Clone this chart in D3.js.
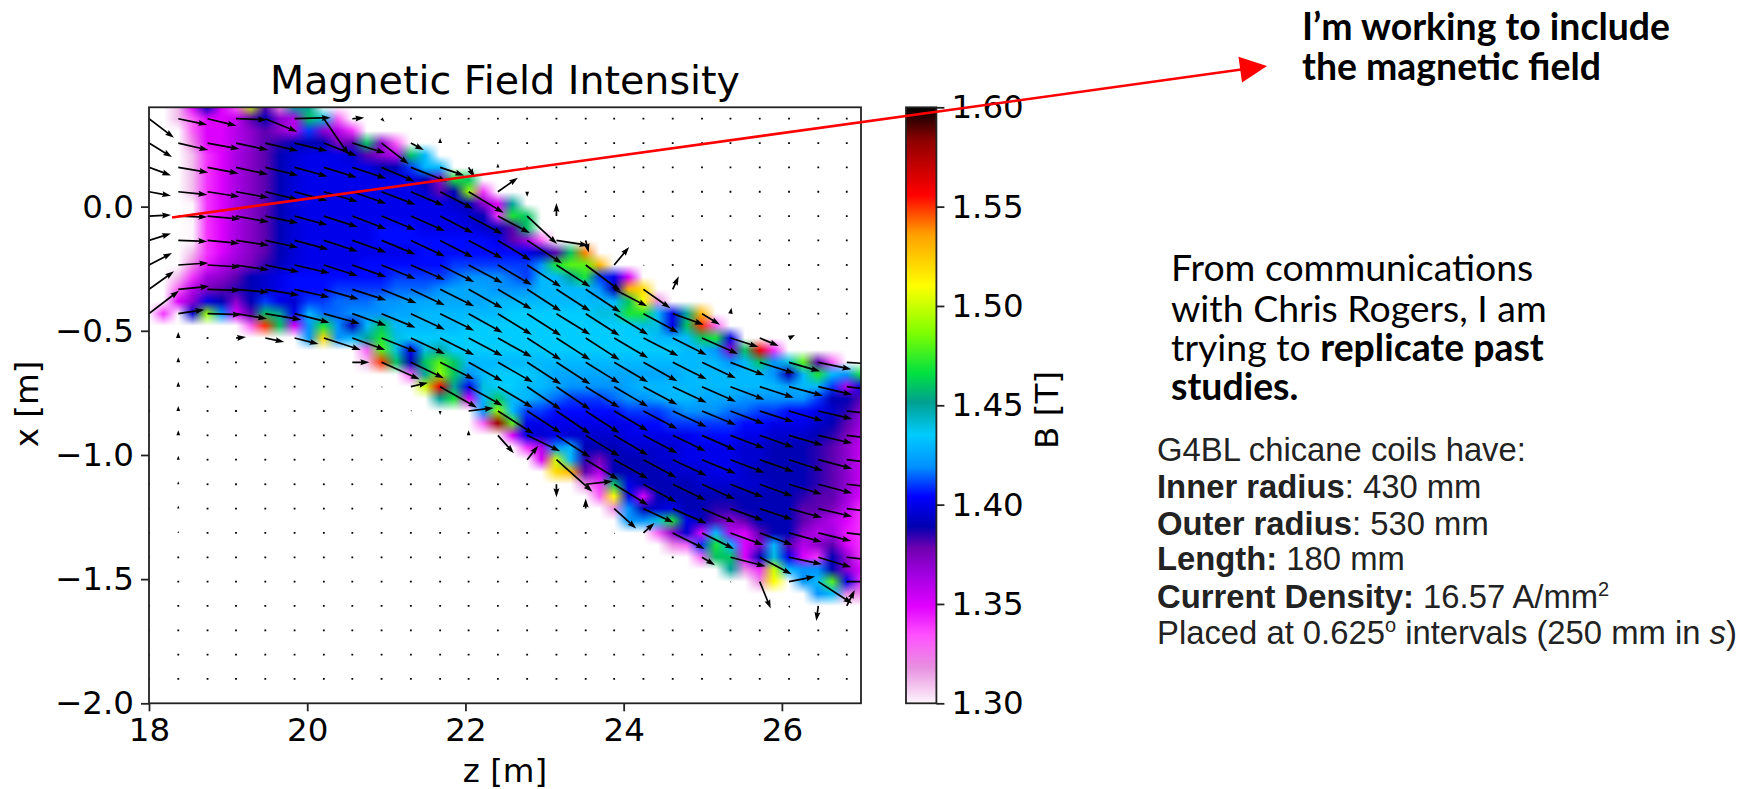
<!DOCTYPE html>
<html>
<head>
<meta charset="utf-8">
<title>Magnetic Field Intensity</title>
<script src="https://cdn.jsdelivr.net/npm/d3@7"></script>
<style>
    html, body { margin: 0; padding: 0; background: #fff; overflow: hidden; }
    svg { display: block; }
    .axis text, .plot-text { font-family: "DejaVu Sans", sans-serif; fill: #000; }
    .note { font-family: Lato, "Liberation Sans", sans-serif; fill: #000; }
    .coil { font-family: "Liberation Sans", sans-serif; fill: #222; }
</style>
</head>
<body>
<svg id="chart" width="1738" height="789"></svg>
<script>
// axes
const zTicks = [18, 20, 22, 24, 26];
const xTicks = [0, -0.5, -1, -1.5, -2];
const cbarTicks = [1.3, 1.35, 1.4, 1.45, 1.5, 1.55, 1.6];

// colour map
const cmapValues = [1.30, 1.318, 1.3345, 1.349, 1.365, 1.378, 1.389, 1.404, 1.419, 1.435, 1.4516, 1.466, 1.4866, 1.51, 1.536, 1.556, 1.583, 1.60];
const cmapColors = ["#fdf5fc", "#e890e0", "#ff50ff", "#e000ff", "#a000e0", "#7000b0", "#0000b0", "#0000ff", "#0090ff", "#00ccff", "#00a090", "#00e040", "#80ff00", "#ffff00", "#ffa000", "#ff0000", "#900000", "#000000"];

// quiver sample positions
const zGrid = [18.00, 18.37, 18.74, 19.10, 19.47, 19.84, 20.21, 20.57, 20.94, 21.31, 21.68, 22.04, 22.41, 22.78, 23.15, 23.52, 23.88, 24.25, 24.62, 24.99, 25.35, 25.72, 26.09, 26.46, 26.82];
const xGrid = [0.354, 0.256, 0.158, 0.060, -0.038, -0.136, -0.235, -0.333, -0.431, -0.529, -0.627, -0.725, -0.823, -0.921, -1.019, -1.118, -1.216, -1.314, -1.412, -1.510, -1.608, -1.706, -1.804, -1.902];

// field components per row, in units of 0.04 T
const arrowU = [
    [25,29,29,31,32,36,25,12,3,0,0,0,0,0,0,0,0,0,0,0,0,0,0,0,0],
    [23,30,32,32,33,33,33,33,27,13,0,0,0,0,0,0,0,0,0,0,0,0,0,0,0],
    [22,30,31,32,33,33,33,34,33,36,24,6,0,0,0,0,0,0,0,0,0,0,0,0,0],
    [22,29,32,33,33,33,34,34,34,33,33,35,20,0,0,0,0,0,0,0,0,0,0,0,0],
    [22,29,33,33,33,33,34,34,34,34,33,34,32,30,0,0,0,0,0,0,0,0,0,0,0],
    [22,29,32,33,33,34,34,34,34,34,33,34,33,35,32,3,0,0,0,0,0,0,0,0,0],
    [23,30,33,33,34,35,34,34,34,34,34,34,34,34,34,35,15,1,0,0,0,0,0,0,0],
    [25,31,33,33,34,35,35,34,35,34,34,34,34,34,34,35,33,27,6,0,0,0,0,0,0],
    [30,26,34,31,36,35,36,34,34,34,34,34,34,34,34,34,34,35,31,18,1,0,0,0,0],
    [0,0,0,10,19,24,37,33,35,34,34,34,34,34,34,34,34,35,34,36,28,19,6,0,0],
    [0,0,0,0,0,0,0,17,38,33,34,34,35,34,34,34,34,34,34,34,34,35,31,33,32],
    [0,0,0,0,0,0,0,0,1,17,37,34,35,34,34,34,34,34,34,34,34,34,34,34,34],
    [0,0,0,0,0,0,0,0,0,1,0,25,36,34,34,34,34,34,34,34,34,34,34,34,34],
    [0,0,0,0,0,0,0,0,0,0,0,0,16,33,34,34,34,34,33,34,34,34,34,34,34],
    [0,0,0,0,0,0,0,0,0,0,0,0,1,11,36,33,34,33,34,34,34,34,34,34,34],
    [0,0,0,0,0,0,0,0,0,0,0,0,0,0,0,27,34,33,33,33,33,33,33,34,34],
    [0,0,0,0,0,0,0,0,0,0,0,0,0,0,0,0,22,30,34,33,33,33,33,34,34],
    [0,0,0,0,0,0,0,0,0,0,0,0,0,0,0,0,1,11,32,32,33,33,33,33,34],
    [0,0,0,0,0,0,0,0,0,0,0,0,0,0,0,0,0,0,0,13,35,32,33,33,34],
    [0,0,0,0,0,0,0,0,0,0,0,0,0,0,0,0,0,0,0,0,1,11,26,34,34],
    [0,0,0,0,0,0,0,0,0,0,0,0,0,0,0,0,0,0,0,0,0,0,1,-2,8],
    [0,0,0,0,0,0,0,0,0,0,0,0,0,0,0,0,0,0,0,0,0,0,0,0,0],
    [0,0,0,0,0,0,0,0,0,0,0,0,0,0,0,0,0,0,0,0,0,0,0,0,0],
    [0,0,0,0,0,0,0,0,0,0,0,0,0,0,0,0,0,0,0,0,0,0,0,0,0]
];
const arrowV = [
    [-19,-6,-7,-1,-13,1,-36,1,-3,0,0,0,0,0,0,0,0,0,0,0,0,0,0,0,0],
    [-14,-7,-6,-7,-8,-8,-13,-10,-21,-7,5,0,0,0,0,0,0,0,0,0,0,0,0,0,0],
    [-8,-5,-6,-7,-8,-9,-10,-11,-14,-14,-8,-10,4,0,0,0,0,0,0,0,0,0,0,0,0],
    [-4,-3,-5,-6,-8,-9,-10,-12,-13,-14,-17,-21,14,-5,0,0,0,0,0,0,0,0,0,0,0],
    [1,-1,-3,-6,-7,-9,-11,-13,-14,-15,-17,-18,-17,-28,13,0,0,0,0,0,0,0,0,0,0],
    [7,-1,-3,-5,-7,-9,-11,-12,-14,-16,-17,-18,-20,-23,-5,-12,0,0,0,0,0,0,0,0,0],
    [12,2,-2,-5,-7,-8,-11,-12,-14,-15,-17,-18,-20,-22,-22,-26,18,-1,0,0,0,0,0,0,0],
    [18,3,-1,-3,-6,-8,-10,-11,-14,-16,-17,-19,-20,-22,-22,-23,-17,-19,13,0,0,0,0,0,0],
    [23,4,-1,-5,-6,-9,-10,-12,-14,-16,-17,-19,-21,-22,-21,-22,-21,-19,-11,-11,6,0,0,0,0],
    [0,6,0,1,-4,-6,-12,-12,-14,-16,-17,-18,-19,-22,-22,-22,-20,-18,-17,-16,-9,-8,3,0,0],
    [0,5,0,0,0,0,0,0,-17,-16,-17,-19,-20,-22,-22,-21,-20,-19,-17,-16,-13,-11,-9,-7,-2],
    [0,5,0,0,0,0,0,0,-1,4,-21,-19,-21,-23,-23,-21,-20,-18,-16,-15,-13,-11,-9,-8,-4],
    [0,5,0,0,0,0,0,0,0,1,-4,3,-23,-22,-23,-22,-20,-18,-16,-14,-13,-11,-10,-8,-4],
    [0,5,0,0,0,0,0,0,0,0,0,5,-18,-16,-22,-21,-20,-18,-16,-15,-13,-12,-10,-8,-4],
    [0,4,0,0,0,0,0,0,0,0,0,0,-1,14,-32,-20,-19,-18,-16,-14,-13,-12,-11,-9,-4],
    [0,3,0,0,0,0,0,0,0,0,0,0,0,0,-13,3,-21,-18,-16,-15,-13,-12,-10,-9,-4],
    [0,3,0,0,0,0,0,0,0,0,0,0,0,0,0,10,-20,-14,-15,-14,-12,-11,-9,-8,-4],
    [0,2,0,0,0,0,0,0,0,0,0,0,0,0,0,0,-1,10,-16,-16,-12,-12,-9,-8,-4],
    [0,0,0,0,0,0,0,0,0,0,0,0,0,0,0,0,0,0,0,-8,-9,-17,-7,-10,-4],
    [0,0,0,0,0,0,0,0,0,0,0,0,0,0,0,0,0,0,0,0,-1,-27,5,-22,0],
    [0,0,0,0,0,0,0,0,0,0,0,0,0,0,0,0,0,0,0,0,0,0,-2,-15,16],
    [0,0,0,0,0,0,0,0,0,0,0,0,0,0,0,0,0,0,0,0,0,0,0,0,0],
    [0,0,0,0,0,0,0,0,0,0,0,0,0,0,0,0,0,0,0,0,0,0,0,0,0],
    [0,0,0,0,0,0,0,0,0,0,0,0,0,0,0,0,0,0,0,0,0,0,0,0,0]
];

// |B| map in 0.01 T, sampled at half the quiver spacing. First row sits one half step above xGrid[0].
// fieldStart is the index of the first filled half step in each row, everything else is empty
const fieldStart = [2,2,3,3,3,3,3,3,3,3,3,3,3,3,2,2,2,1,7,11,15,15,18,19,20,23,23,25,26,27,28,30,31,32,33,35,36,38,40,42,46];
const fieldValues = [
    [131,135,139,135,133,150,138,132,145,145],
    [131,133,135,135,135.5,138,139,137,136,146,144,133],
    [133,135,135,136,137,138,137,136,141,137,136,134],
    [132,135,135,136,137,138,138.5,139,139,139,137.5,138,146,137,133],
    [131,134,135,136.3,137.2,138,139,139.7,140,140,140,139.5,138,137,136,146,143],
    [131,134,135,136.3,137.2,138,139,139.7,140,140,140,140,140,139,139,141,143,143],
    [131,134,135,136.3,137.2,138,139,139.7,140,140,140,140,140,140,140,140,139,137,147,146],
    [131,134,135,136.3,137.2,138,139,139.7,140,140,140,140,140,140,140,140,139.5,138,139,149,134],
    [130,134,135,136.3,137.2,138,139,139.7,140,140,140,140,140,140,140,140,140,140,139.5,139,137,135,145],
    [130,134,135,136.3,137.2,138,139,139.7,140,140,140,140,140,140,140,140,140,140,140,139.5,139,134,147,146],
    [130,134,135,136.3,137.2,138,139,139.7,140,140,140,140,140,140.5,140.5,140.5,140,140,140,140,139.5,139,138,146],
    [130,134,135,136.3,137.2,138,139,139.7,140,140,140,140,140,140.5,140.5,140.5,140.5,140.5,140.5,140.5,140.5,140,138,136.5,133],
    [131,134,135,136.3,137.2,138,139,139.7,140,140,140,140,140,140,140,140,140.5,140.5,140.5,140.5,140.5,140.5,140.5,140,139,138,146,154],
    [132,134.5,136,136.8,137.5,138.4,139.2,139.8,140,140,140,140,140.5,140.5,140.5,140.5,140.5,140.5,141,141,141,141,141,141,142,147,148,148,153],
    [131,134,136.5,137,138,139,139.5,140,140.5,140.5,140.5,140.5,140.5,140.5,140.5,141,141,141,141,141.5,142,142,142,141.5,141,143,143,145,147,141,140,135],
    [133,136,137.5,138,138.5,139,139.5,140,140.5,140.5,140.5,141,141,141,141,141.5,141.5,141.5,142,142.5,142.5,142.5,142,142,142,143,143,143,143,142,139,153,152],
    [135,137,140,139,137,139,141,140,139.5,141,141,141.5,141.5,141.5,142,142,142.5,142.5,142.5,142.5,142.5,142.5,143,143,143,143,143,143,143,143,143,146,151,132],
    [134,130,139.5,149,142,135,138,146,145,140,143,141.5,141.5,142,142,142,142.5,142.5,143,143,143,143,143,143,143.5,143.5,143.5,143.5,143.5,143.5,144,144,147,147,143,140,145,153],
    [133,155,146,135,142,147,142,139,143,146,143,143,143,143,143,143.5,143.5,143.5,143.5,143.5,143.5,143.5,143.5,143.5,143.5,143.5,143.5,144,144,140,146,155,133],
    [142,152,142,143,145,147,144,143.5,143.5,143.5,143.5,143.5,143.5,143.5,143.5,143.5,143.5,143.5,143.5,143.5,143.5,143.5,143.5,143.5,143,143,143,146,147,140],
    [133,148,144,140,144,145,143.5,143.5,143.5,143.5,143.5,143.5,143.5,143.5,143.5,143.5,143.5,143.5,143.5,143.5,143.5,143.5,143,143,142,137,146,156,134],
    [131,155,146,139,146,148,146,143,143,143,143,143,143,143,143,143,143,143,143,143,143,143,143,143,143,142,143,146,142,144,148,138,133],
    [133,145,149,146,142,143,143.5,143.5,143.5,143,142.5,142.5,142.5,142.5,142.5,142.5,142.5,142.5,142.5,143,143,143,143,143,143,142,139,143,147,143,142,147],
    [150,156,145,140,144,143.5,143.5,143,143,142.5,142,142,142,142,142.5,143,143,143,143,143,143,143,143,143,143,142.5,143,143,141,136,140],
    [145,147,135,143,146,143,143,142,141.5,141,141,141,141.5,142,142,142.5,143,143,142.5,142.5,142.5,142,142,142,142,142,141,139,139,138],
    [142,149,143,141,141,140.5,140.5,140.5,140.5,140.5,141,141,141,141.5,142,142,142,141.5,141.5,141,141,140.5,140.5,140,139.5,138.5,137],
    [133,158,148,140,140,140,140,140,140,140,140,140.5,140.5,141,141,141,141,141,140.5,140.5,140,140,140,139.5,139,138,136.5],
    [135,140,139.5,140,139.5,139.5,139.5,139.5,140,140,140,140,140,140.5,140.5,140.5,140,140,139.5,139.5,139.5,139,138.5,137.5,136],
    [134,136,142,143,139,139,139,139.5,139.5,139.5,139.5,140,140,140,140,139.5,139.5,139,139,139,138.5,138,137,135.5],
    [135,150,143,138.5,137.5,139,139,139,139.5,139.5,140,140,140,140,139.5,139.5,139,139,139,138.5,138,137,135.5],
    [152,153,138,136,139,139,139,139,139.5,139.5,139.5,140,140,139.5,139,139,139,139,138.5,138,137,135.5],
    [132,134,146,140,139,139,139,139,139.5,139.5,139.5,139.5,139.5,139,139,139,138.5,138,137,135.5],
    [133,151,140,135,139,139,139,139,139,139,139,139,139,139,138.5,138,138,136.5,135],
    [132,142,139,139.5,140,139,139,138.5,138.5,139,139,139,139,138,138,137.5,136,134],
    [142,142,144,147,140,139,138,137,138,139,139,139,138,137,136,135,134],
    [133,137,139.5,135,143,136,135,138,139,139,137,136,136.5,134.5,134],
    [132,133,141,147,143,135,137,143,138,136,137,138,135,134],
    [133,146,146,135,139,144,140,135,134,139,137,134],
    [145,132,134,150,143,142,142,139,137,135],
    [132,151,0,142,143,148,140,134],
    [142,143,132,132]
];

const plot = { left: 149, right: 861, top: 107.3, bottom: 703.3 };
const bar = { left: 906, right: 936.4 };

const svg = d3.select("#chart");

const zScale = d3.scaleLinear().domain([18, 27]).range([plot.left, plot.right]);
const xScale = d3.scaleLinear().domain([-2, 0.4]).range([plot.bottom, plot.top]);
const bScale = d3.scaleLinear().domain([1.3, 1.6]).range([plot.bottom, plot.top]);
const colorScale = d3.scaleLinear().domain(cmapValues).range(cmapColors).clamp(true);
const quiverScale = d3.scaleLinear().domain([0, 1.36]).range([0, 34]);

// white where there is no value, so the map fades out to the paper at its edge
function nodeRgb(row, col){
    const vals = fieldValues[row];
    if(!vals) return [255, 255, 255];
    const v = vals[col - fieldStart[row]];
    if(!v) return [255, 255, 255];
    const c = d3.rgb(colorScale(v / 100));
    return [c.r, c.g, c.b];
}

function drawField(){
    const w = plot.right - plot.left, h = plot.bottom - plot.top;
    const canvas = document.createElement("canvas");
    canvas.width = w;
    canvas.height = Math.ceil(h);
    const ctx = canvas.getContext("2d");
    const img = ctx.createImageData(canvas.width, canvas.height);

    const dz = (zGrid[24] - zGrid[0]) / 48;
    const dx = (xGrid[23] - xGrid[0]) / 46;
    const rgbCache = new Map();
    const rgbAt = (r, c) => {
        const key = r * 100 + c;
        if(!rgbCache.has(key)) rgbCache.set(key, nodeRgb(r, c));
        return rgbCache.get(key);
    };

    for(let py = 0; py < canvas.height; py++){
        const xv = xScale.invert(plot.top + py + 0.5);
        const fr = (xv - xGrid[0]) / dx + 1;
        const r0 = Math.floor(fr), tr = fr - r0;
        for(let px = 0; px < w; px++){
            const zv = zScale.invert(plot.left + px + 0.5);
            const fc = (zv - zGrid[0]) / dz;
            const c0 = Math.floor(fc), tc = fc - c0;
            const a = rgbAt(r0, c0), b = rgbAt(r0, c0 + 1), c = rgbAt(r0 + 1, c0), d = rgbAt(r0 + 1, c0 + 1);
            const i = (py * canvas.width + px) * 4;
            for(let k = 0; k < 3; k++){
                img.data[i + k] = (a[k] * (1 - tc) + b[k] * tc) * (1 - tr) + (c[k] * (1 - tc) + d[k] * tc) * tr;
            }
            img.data[i + 3] = 255;
        }
    }
    ctx.putImageData(img, 0, 0);

    svg.append("image")
        .attr("x", plot.left)
        .attr("y", plot.top)
        .attr("width", canvas.width)
        .attr("height", canvas.height)
        .attr("href", canvas.toDataURL());
}

function arrowPath(L){
    if(L < 0.5){
        return "M-0.9,-0.9H0.9V0.9H-0.9Z";
    }
    const headLen = Math.min(8, L);
    const hw = 3 * headLen / 8, sw = 0.85;
    if(L <= 8) return `M${L},0L0,${hw}L0,${-hw}Z`;
    const b = L - headLen;
    return `M0,${-sw}L${b},${-sw}L${b - 1},${-hw}L${L},0L${b - 1},${hw}L${b},${sw}L0,${sw}Z`;
}

function drawQuiver(){
    svg.append("clipPath").attr("id", "plot-clip")
        .append("rect")
        .attr("x", plot.left)
        .attr("y", plot.top)
        .attr("width", plot.right - plot.left)
        .attr("height", plot.bottom - plot.top);

    const arrows = [];
    xGrid.forEach((xv, k) => {
        zGrid.forEach((zv, i) => {
            arrows.push({ z: zv, x: xv, u: arrowU[k][i], v: arrowV[k][i] });
        });
    });

    svg.append("g")
        .attr("clip-path", "url(#plot-clip)")
        .selectAll("path")
        .data(arrows)
        .enter().append("path")
        .attr("d", d => arrowPath(quiverScale(Math.hypot(d.u, d.v) * 0.04)))
        .attr("transform", d => `translate(${zScale(d.z)},${xScale(d.x)}) rotate(${Math.atan2(-d.v, d.u) * 180 / Math.PI})`)
        .attr("fill", "#000");
}

function drawAxes(){
    const zAxis = d3.axisBottom(zScale).tickValues(zTicks).tickSize(8).tickPadding(7).tickFormat(d3.format("d"));
    const xAxis = d3.axisLeft(xScale).tickValues(xTicks).tickSize(8).tickPadding(7).tickFormat(d3.format(".1f"));
    const bAxis = d3.axisRight(bScale).tickValues(cbarTicks).tickSize(8).tickPadding(7).tickFormat(d3.format(".2f"));

    const gz = svg.append("g").attr("class", "axis").attr("transform", `translate(0,${plot.bottom})`).call(zAxis);
    const gx = svg.append("g").attr("class", "axis").attr("transform", `translate(${plot.left},0)`).call(xAxis);

    svg.append("rect")
        .attr("x", plot.left).attr("y", plot.top)
        .attr("width", plot.right - plot.left).attr("height", plot.bottom - plot.top)
        .attr("fill", "none").attr("stroke", "#222").attr("stroke-width", 1.8);

    // colour bar
    const grad = svg.append("defs").append("linearGradient")
        .attr("id", "cbar").attr("x1", 0).attr("x2", 0).attr("y1", 1).attr("y2", 0);
    cmapValues.forEach((v, i) => {
        grad.append("stop").attr("offset", (v - 1.3) / 0.3).attr("stop-color", cmapColors[i]);
    });
    svg.append("rect")
        .attr("x", bar.left).attr("y", plot.top)
        .attr("width", bar.right - bar.left).attr("height", plot.bottom - plot.top)
        .attr("fill", "url(#cbar)").attr("stroke", "#222").attr("stroke-width", 1.8);
    const gb = svg.append("g").attr("class", "axis").attr("transform", `translate(${bar.right},0)`).call(bAxis);

    [gz, gx, gb].forEach(g => {
        g.select(".domain").remove();
        g.selectAll("line").attr("stroke", "#222").attr("stroke-width", 1.8);
        g.selectAll("text").attr("font-size", 32.5);
    });

    svg.append("text").attr("class", "plot-text")
        .attr("x", 505).attr("y", 94).attr("text-anchor", "middle")
        .attr("font-size", 39.6)
        .text("Magnetic Field Intensity");
    svg.append("text").attr("class", "plot-text")
        .attr("x", 505).attr("y", 782).attr("text-anchor", "middle")
        .attr("font-size", 32.5)
        .text("z [m]");
    svg.append("text").attr("class", "plot-text")
        .attr("transform", "translate(38,404) rotate(-90)").attr("text-anchor", "middle")
        .attr("font-size", 32.5)
        .text("x [m]");
    svg.append("text").attr("class", "plot-text")
        .attr("transform", "translate(1058,410) rotate(-90)").attr("text-anchor", "middle")
        .attr("font-size", 32.5)
        .text("B [T]");
}

function drawPointer(){
    const tail = [172, 217.5], tip = [1267, 66];
    const a = Math.atan2(tip[1] - tail[1], tip[0] - tail[0]) * 180 / Math.PI;
    const len = Math.hypot(tip[0] - tail[0], tip[1] - tail[1]);
    const g = svg.append("g").attr("transform", `translate(${tail[0]},${tail[1]}) rotate(${a})`);
    g.append("line").attr("x1", 0).attr("y1", 0).attr("x2", len - 26).attr("y2", 0)
        .attr("stroke", "#ff0000").attr("stroke-width", 2.6);
    g.append("path").attr("d", `M${len},0L${len - 27},-13L${len - 27},13Z`).attr("fill", "#ff0000");
}

function drawNotes(){
    const head = svg.append("text").attr("class", "note").attr("font-size", 37.4).attr("font-weight", 700);
    head.append("tspan").attr("x", 1302).attr("y", 40).text("I\u2019m working to include");
    head.append("tspan").attr("x", 1302).attr("y", 79.5).text("the magnetic field");

    const from = svg.append("text").attr("class", "note").attr("font-size", 37.4);
    from.append("tspan").attr("x", 1171).attr("y", 281).text("From communications");
    from.append("tspan").attr("x", 1171).attr("y", 321.5).text("with Chris Rogers, I am");
    from.append("tspan").attr("x", 1171).attr("y", 360.5).text("trying to ");
    from.append("tspan").attr("font-weight", 700).text("replicate past");
    from.append("tspan").attr("x", 1171).attr("y", 400).attr("font-weight", 700).text("studies.");

    const coilLines = [
        [["G4BL chicane coils have:", 400]],
        [["Inner radius", 700], [": 430 mm", 400]],
        [["Outer radius", 700], [": 530 mm", 400]],
        [["Length:", 700], [" 180 mm", 400]],
        [["Current Density:", 700], [" 16.57 A/mm", 400], ["2", 400, true]],
        [["Placed at 0.625", 400], ["o", 400, true], [" intervals (250 mm in ", 400], ["s", 400, false, true], [")", 400]]
    ];
    const lineY = [460.5, 497.5, 534.5, 570, 608, 644];
    coilLines.forEach((parts, n) => {
        const t = svg.append("text").attr("class", "coil").attr("font-size", 32.8)
            .attr("x", 1157).attr("y", lineY[n]);
        parts.forEach((p, i) => {
            const s = t.append("tspan").attr("font-weight", p[1]).text(p[0]);
            if(p[2]) s.attr("font-size", 20).attr("dy", -12);
            if(p[3]) s.attr("font-style", "italic");
            // superscripts shift the baseline of whatever follows, put it back
            if(i > 0 && parts[i - 1][2]) s.attr("dy", 12);
        });
    });
}

drawField();
drawQuiver();
drawAxes();
drawPointer();
drawNotes();
</script>
</body>
</html>
